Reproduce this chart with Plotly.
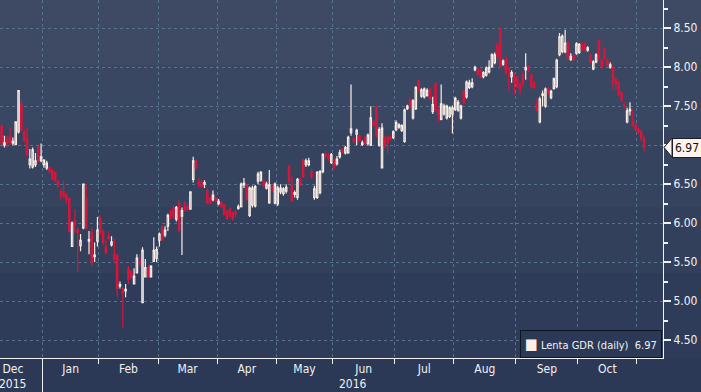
import pandas as pd
import plotly.graph_objects as go

# ---------------- data (Lenta GDR daily OHLC, 9 Dec 2015 - 3 Nov 2016) ----------------
OPEN = [
    # Dec 2015
    7.24, 7.00, 7.08, 7.12, 7.03, 7.01, 7.17, 7.53, 7.17, 7.08, 6.75, 6.72, 6.75, 6.98, 6.80,
    # Jan 2016
    6.75, 6.71, 6.71, 6.67, 6.65, 6.54, 6.40, 6.40, 6.36, 6.31, 5.70, 6.03, 5.91, 5.71, 5.94, 6.31, 5.77, 5.88, 5.57, 5.77,
    # Feb
    6.05, 5.89, 5.70, 5.83, 5.72, 5.60, 5.59, 5.19, 5.16, 5.13, 5.41, 5.38, 5.22, 5.36, 5.51, 4.98, 5.31, 5.43, 5.31, 5.51, 5.55,
    # Mar
    5.78, 5.95, 5.85, 5.96, 6.15, 6.19, 6.05, 6.25, 6.09, 6.26, 6.21, 6.18, 6.56, 6.80, 6.53, 6.52, 6.50, 6.41, 6.31, 6.30, 6.31,
    # Apr
    6.25, 6.26, 6.23, 6.15, 6.18, 6.13, 6.14, 6.19, 6.21, 6.49, 6.48, 6.10, 6.23, 6.22, 6.54, 6.55, 6.54, 6.45, 6.26, 6.47, 6.26,
    # May
    6.25, 6.40, 6.38, 6.41, 6.73, 6.48, 6.37, 6.33, 6.56, 6.81, 6.75, 6.75, 6.66, 6.33, 6.33, 6.39, 6.66, 6.88, 6.86, 6.78,
    # Jun
    6.81, 6.76, 6.85, 6.93, 6.90, 6.90, 7.16, 7.08, 7.14, 7.12, 7.01, 7.10, 7.02, 7.00, 7.30, 7.49, 7.00, 6.71, 7.09, 7.10, 7.10, 7.10,
    # Jul
    7.20, 7.23, 7.19, 7.05, 7.47, 7.58, 7.35, 7.47, 7.83, 7.63, 7.62, 7.64, 7.72, 7.43, 7.78, 7.45, 7.33, 7.40, 7.35, 7.37, 7.40,
    # Aug
    7.46, 7.45, 7.35, 7.69, 7.62, 7.74, 7.75, 7.97, 7.97, 7.96, 7.88, 7.90, 7.94, 8.01, 8.06, 8.29, 8.49, 8.04, 8.11, 7.99, 7.88, 7.91,
    # Sep
    7.87, 7.78, 7.90, 7.97, 8.01, 7.90, 7.80, 7.52, 7.30, 7.64, 7.50, 7.72, 7.61, 7.73, 7.75, 8.16, 8.20, 8.20, 8.31, 8.10, 8.14, 8.18,
    # Oct
    8.19, 8.30, 8.30, 8.22, 8.16, 7.98, 8.07, 8.34, 8.09, 8.23, 8.09, 8.00, 8.00, 7.84, 7.80, 7.67, 7.52, 7.30, 7.44, 7.30, 7.26,
    # Nov
    7.20, 7.17, 7.08,
]
HIGH = [
    7.27, 7.12, 7.12, 7.22, 7.10, 7.30, 7.70, 7.58, 7.20, 7.22, 6.95, 6.97, 6.90, 6.99, 7.02,
    6.82, 6.80, 6.73, 6.70, 6.66, 6.55, 6.45, 6.54, 6.38, 6.33, 6.02, 6.18, 5.95, 5.86, 6.50, 6.50, 5.90, 5.95, 5.75, 6.08,
    6.10, 5.92, 5.78, 5.90, 5.83, 5.80, 5.60, 5.25, 5.18, 5.22, 5.45, 5.40, 5.42, 5.60, 5.60, 5.69, 5.54, 5.45, 5.46, 5.82, 5.70,
    5.88, 5.97, 5.96, 6.12, 6.17, 6.22, 6.22, 6.30, 6.20, 6.28, 6.25, 6.40, 6.85, 6.82, 6.58, 6.56, 6.55, 6.45, 6.34, 6.42, 6.34,
    6.31, 6.28, 6.25, 6.17, 6.20, 6.15, 6.17, 6.24, 6.52, 6.58, 6.50, 6.47, 6.48, 6.49, 6.66, 6.67, 6.56, 6.53, 6.68, 6.50, 6.52,
    6.48, 6.50, 6.46, 6.50, 6.75, 6.60, 6.42, 6.58, 6.58, 6.83, 6.83, 6.84, 6.70, 6.48, 6.67, 6.68, 6.90, 6.93, 6.90, 6.90,
    6.83, 6.86, 6.94, 6.96, 6.99, 7.12, 7.78, 7.10, 7.21, 7.14, 7.06, 7.12, 7.15, 7.50, 7.32, 7.51, 7.23, 7.28, 7.12, 7.12, 7.12, 7.19,
    7.32, 7.28, 7.27, 7.47, 7.52, 7.60, 7.59, 7.76, 7.85, 7.73, 7.74, 7.73, 7.74, 7.62, 7.80, 7.47, 7.78, 7.53, 7.52, 7.50, 7.51,
    7.62, 7.58, 7.52, 7.71, 7.83, 7.84, 7.86, 8.02, 7.99, 7.98, 7.95, 8.01, 8.09, 8.18, 8.19, 8.31, 8.51, 8.10, 8.14, 8.01, 7.96, 7.93,
    7.89, 7.80, 7.95, 8.18, 8.03, 7.92, 7.82, 7.60, 7.62, 7.70, 7.74, 7.75, 7.71, 7.87, 8.11, 8.44, 8.42, 8.48, 8.33, 8.18, 8.18, 8.32,
    8.31, 8.32, 8.32, 8.27, 8.18, 8.09, 8.18, 8.36, 8.11, 8.25, 8.11, 8.06, 8.02, 7.86, 7.82, 7.69, 7.55, 7.48, 7.55, 7.46, 7.28,
    7.22, 7.20, 7.12,
]
LOW = [
    7.00, 6.97, 6.97, 7.00, 7.00, 7.00, 7.15, 7.18, 7.04, 6.85, 6.70, 6.70, 6.72, 6.78, 6.78,
    6.71, 6.68, 6.64, 6.55, 6.53, 6.45, 6.30, 6.32, 6.25, 5.88, 5.70, 5.88, 5.38, 5.64, 5.92, 5.92, 5.60, 5.45, 5.50, 5.70,
    5.85, 5.72, 5.60, 5.78, 5.70, 5.50, 5.05, 5.16, 4.66, 5.05, 5.22, 5.28, 5.22, 5.36, 5.44, 4.98, 5.31, 5.30, 5.31, 5.51, 5.50,
    5.70, 5.77, 5.82, 5.90, 6.05, 6.05, 6.02, 5.88, 5.59, 6.15, 6.15, 6.17, 6.52, 6.69, 6.46, 6.45, 6.45, 6.25, 6.24, 6.28, 6.27,
    6.23, 6.19, 6.10, 6.04, 6.07, 6.03, 6.08, 6.17, 6.20, 6.45, 6.29, 6.08, 6.20, 6.20, 6.50, 6.53, 6.46, 6.43, 6.25, 6.40, 6.24,
    6.22, 6.37, 6.35, 6.38, 6.50, 6.27, 6.33, 6.30, 6.47, 6.58, 6.72, 6.73, 6.57, 6.30, 6.31, 6.37, 6.64, 6.84, 6.80, 6.76,
    6.69, 6.74, 6.83, 6.89, 6.88, 6.89, 7.12, 7.02, 7.00, 7.04, 6.99, 7.00, 7.00, 6.99, 7.24, 7.10, 6.98, 6.70, 6.96, 6.90, 7.06, 7.08,
    7.18, 7.21, 7.17, 7.03, 7.45, 7.47, 7.33, 7.45, 7.68, 7.61, 7.60, 7.62, 7.58, 7.40, 7.43, 7.30, 7.32, 7.38, 7.33, 7.35, 7.15,
    7.44, 7.43, 7.33, 7.53, 7.60, 7.72, 7.73, 7.95, 7.89, 7.86, 7.86, 7.88, 7.92, 7.99, 8.04, 8.04, 7.99, 8.02, 7.91, 7.70, 7.80, 7.65,
    7.73, 7.65, 7.75, 7.84, 7.94, 7.73, 7.72, 7.43, 7.28, 7.50, 7.48, 7.65, 7.59, 7.71, 7.73, 8.14, 8.18, 8.18, 8.10, 8.08, 8.08, 8.16,
    8.17, 8.21, 8.20, 8.20, 8.05, 7.96, 8.05, 8.09, 7.98, 8.10, 8.01, 7.98, 7.70, 7.70, 7.63, 7.56, 7.47, 7.28, 7.38, 7.24, 7.18,
    7.15, 7.05, 6.92,
]
CLOSE = [
    7.02, 7.03, 7.03, 7.04, 7.05, 7.30, 7.70, 7.20, 7.06, 6.88, 6.82, 6.94, 6.80, 6.80, 6.85,
    6.81, 6.77, 6.66, 6.57, 6.55, 6.49, 6.36, 6.34, 6.30, 5.90, 6.00, 5.98, 5.88, 5.78, 6.50, 5.94, 5.79, 5.50, 5.59, 5.91,
    5.89, 5.75, 5.62, 5.80, 5.76, 5.54, 5.16, 5.21, 5.10, 5.15, 5.28, 5.30, 5.32, 5.55, 5.49, 5.65, 5.43, 5.31, 5.45, 5.65, 5.66,
    5.86, 5.79, 5.91, 6.10, 6.09, 6.08, 6.20, 5.91, 6.16, 6.17, 6.18, 6.40, 6.80, 6.71, 6.49, 6.47, 6.52, 6.26, 6.26, 6.36, 6.29,
    6.28, 6.21, 6.11, 6.06, 6.09, 6.06, 6.12, 6.21, 6.50, 6.51, 6.31, 6.45, 6.45, 6.47, 6.63, 6.65, 6.48, 6.50, 6.49, 6.45, 6.50,
    6.45, 6.45, 6.44, 6.46, 6.53, 6.29, 6.39, 6.56, 6.49, 6.60, 6.80, 6.80, 6.60, 6.44, 6.65, 6.66, 6.88, 6.86, 6.83, 6.88,
    6.71, 6.82, 6.90, 6.91, 6.97, 7.10, 7.21, 7.05, 7.19, 7.06, 7.03, 7.02, 7.13, 7.35, 7.26, 7.12, 7.20, 7.22, 6.99, 7.04, 7.08, 7.17,
    7.29, 7.26, 7.25, 7.45, 7.50, 7.49, 7.57, 7.74, 7.70, 7.71, 7.72, 7.70, 7.60, 7.52, 7.45, 7.39, 7.53, 7.50, 7.50, 7.48, 7.48,
    7.60, 7.55, 7.50, 7.55, 7.81, 7.80, 7.80, 8.00, 7.91, 7.88, 7.93, 7.99, 8.00, 8.16, 8.16, 8.13, 8.01, 8.08, 7.93, 7.97, 7.93, 7.80,
    7.76, 7.71, 7.80, 8.00, 7.96, 7.75, 7.74, 7.45, 7.59, 7.66, 7.72, 7.67, 7.69, 7.85, 8.09, 8.39, 8.40, 8.31, 8.12, 8.14, 8.10, 8.30,
    8.29, 8.23, 8.23, 8.25, 8.07, 8.07, 8.16, 8.11, 8.00, 8.12, 8.03, 8.03, 7.80, 7.79, 7.65, 7.58, 7.50, 7.44, 7.46, 7.26, 7.20,
    7.17, 7.09, 6.97,
]
SERIES_NAME = "Lenta GDR (daily)"
LAST_VALUE = "6.97"
MONTH_LABELS = ["Dec", "Jan", "Feb", "Mar", "Apr", "May", "Jun", "Jul", "Aug", "Sep", "Oct"]
MONTH_KEYS = ["2015-12", "2016-01", "2016-02", "2016-03", "2016-04", "2016-05",
              "2016-06", "2016-07", "2016-08", "2016-09", "2016-10"]
YEAR_LABELS = ["2015", "2016"]
Y_TICKS = [4.5, 5.0, 5.5, 6.0, 6.5, 7.0, 7.5, 8.0, 8.5]
HOLIDAYS = ["2015-12-25", "2015-12-28", "2016-01-01", "2016-03-25", "2016-03-28",
            "2016-05-02", "2016-05-30", "2016-08-29"]
FIRST_DAY = "2015-12-09"

# ---------------- trading-day calendar (x axis = trading-day position) ----------------
cal = pd.bdate_range("2015-12-01", "2016-11-03", freq="C", holidays=HOLIDAYS)
pos = {d: i for i, d in enumerate(cal)}
start = pos[pd.Timestamp(FIRST_DAY)]
n = len(CLOSE)
assert len(OPEN) == len(HIGH) == len(LOW) == n
xs = list(range(start, start + n))
month_key = [d.strftime("%Y-%m") for d in cal]

month_first, month_last = {}, {}
for i, k in enumerate(month_key):
    month_first.setdefault(k, i)
    month_last[k] = i
label_pos = [(month_first[k] + month_last[k]) / 2 for k in MONTH_KEYS]
boundaries = [month_first[k] - 0.5 for k in sorted(month_first)][1:]

px_per_day = 2.8175
jan_b = month_first["2016-01"] - 0.5
x0 = jan_b - 42.5 / px_per_day
x1 = x0 + 663 / px_per_day

# ---------------- style ----------------
FONT = "DejaVu Sans Condensed, DejaVu Sans, sans-serif"
TXT = "#f2f2f2"
UP = "#fbeee6"
DOWN = "#d6163c"
GRID = "#56728f"
PLOT_H = 358.0
PLOT_W = 663.0

fig = go.Figure()
fig.add_trace(go.Candlestick(
    x=xs, open=OPEN, high=HIGH, low=LOW, close=CLOSE,
    increasing=dict(line=dict(color=UP, width=1.2), fillcolor="rgba(0,0,0,0)"),
    decreasing=dict(line=dict(color=DOWN, width=1.2), fillcolor=DOWN),
    whiskerwidth=0, showlegend=False, hoverinfo="skip",
))

# background gradient bands
bands = [(0, 65, "#3e4a64"), (65, 130, "#3a4762"), (130, 207, "#36435f"),
         (207, 273, "#32405c"), (273, 358, "#2e3c5a")]
shapes = []
for top, bot, col in bands:
    shapes.append(dict(type="rect", xref="paper", yref="paper", x0=0, x1=701 / PLOT_W,
                       y0=1 - bot / PLOT_H, y1=1 - top / PLOT_H, fillcolor=col,
                       line=dict(width=0), layer="below"))
# year separator below axis at Jan boundary
shapes.append(dict(type="line", xref="x", yref="paper", x0=jan_b, x1=jan_b,
                   y0=0, y1=-34 / PLOT_H, line=dict(color=TXT, width=1)))
# pointer of the last-value tag
last = CLOSE[-1]
shapes.append(dict(type="path", xref="paper", yref="y",
                   path=(f"M {1 + 1 / PLOT_W} {last} "
                         f"L {1 + 9 / PLOT_W} {last + 9.5 / 78} "
                         f"L {1 + 9 / PLOT_W} {last - 9.5 / 78} Z"),
                   fillcolor="#fdf3ec", line=dict(color="#1a1f2b", width=1), layer="above"))
fig.update_layout(shapes=shapes)

fig.update_layout(
    width=701, height=392,
    margin=dict(l=0, r=38, t=0, b=34, autoexpand=False),
    paper_bgcolor="#2b3956", plot_bgcolor="rgba(0,0,0,0)",
    font=dict(family=FONT, size=12, color=TXT),
    showlegend=False,
    xaxis=dict(
        range=[x0, x1], showgrid=False, zeroline=False, automargin=False,
        showline=True, linecolor=TXT, linewidth=1,
        tickmode="array", tickvals=label_pos, ticktext=MONTH_LABELS, ticks="",
        tickfont=dict(family=FONT, size=12, color=TXT),
        rangeslider=dict(visible=False),
        minor=dict(tickmode="array", tickvals=boundaries, ticks="outside", ticklen=5,
                   tickcolor=TXT, showgrid=True, gridcolor=GRID, griddash="3px,3px",
                   gridwidth=1),
    ),
    yaxis=dict(
        side="right", range=[4.5 - 18 / 78, 8.5 + 28.3 / 78], automargin=False,
        showline=True, linecolor=TXT, linewidth=1, zeroline=False,
        tickmode="array", tickvals=Y_TICKS,
        ticktext=["" if abs(v - 7.0) < 1e-9 else f"{v:.2f}" for v in Y_TICKS],
        ticks="outside", ticklen=7, tickwidth=2, tickcolor=TXT,
        tickfont=dict(family=FONT, size=12, color=TXT),
        showgrid=True, gridcolor=GRID, griddash="3px,3px", gridwidth=1,
        minor=dict(dtick=0.25, ticks="outside", ticklen=4, tickcolor=TXT, showgrid=False),
    ),
    annotations=[
        dict(xref="x", yref="paper", x=label_pos[0], y=-26 / PLOT_H, text=YEAR_LABELS[0],
             showarrow=False, yanchor="middle", font=dict(family=FONT, size=12, color=TXT)),
        dict(xref="x", yref="paper", x=(jan_b + x1) / 2, y=-26 / PLOT_H, text=YEAR_LABELS[1],
             showarrow=False, yanchor="middle", font=dict(family=FONT, size=12, color=TXT)),
        dict(xref="paper", yref="y", x=1 + 9 / PLOT_W, y=last, xanchor="left", yanchor="middle",
             text=LAST_VALUE, showarrow=False, bgcolor="#fdf3ec", bordercolor="#1a1f2b",
             borderwidth=1, borderpad=2, font=dict(family=FONT, size=12, color="#111111")),
        # legend box
        dict(xref="paper", yref="paper", x=1 - 1 / PLOT_W, y=0.5 / PLOT_H,
             xanchor="right", yanchor="bottom", showarrow=False, align="left",
             text=(f"<span style='color:{UP};font-size:15px'>■</span> "
                   f"{SERIES_NAME}  {LAST_VALUE}"),
             bgcolor="#2b3956", bordercolor="#0e1320", borderwidth=1, borderpad=4,
             font=dict(family=FONT, size=11, color=TXT)),
    ],
)

fig.write_html(
    "out.html",
    config={"displayModeBar": False},
    post_script="document.body.style.margin='0';document.body.style.overflow='hidden';",
)
